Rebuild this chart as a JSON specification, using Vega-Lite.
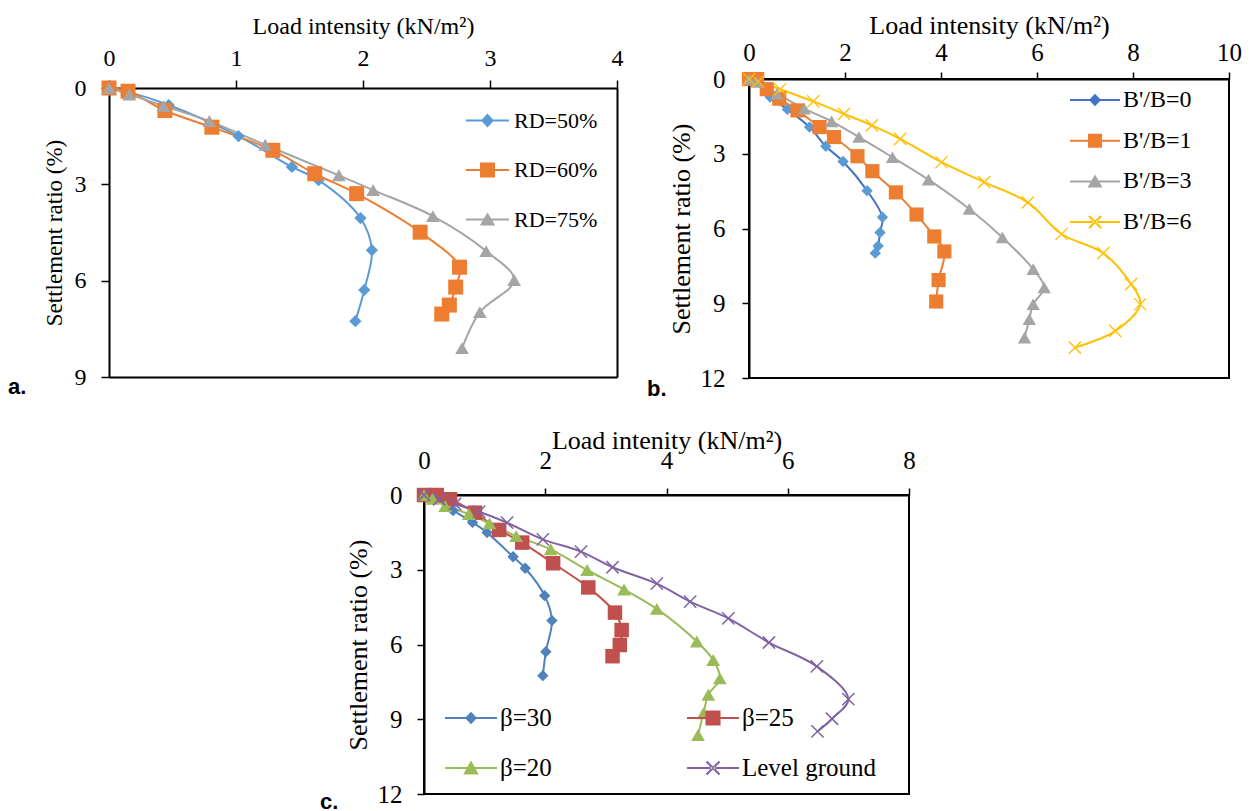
{
 "$schema": "https://vega.github.io/schema/vega-lite/v6.json",
 "background": "white",
 "padding": {"left": 8, "top": 11, "right": 0, "bottom": 0},
 "autosize": {"type": "pad"},
 "config": {
  "font": "Liberation Serif",
  "view": {"stroke": "black", "strokeWidth": 2},
  "axis": {"domainColor": "black", "domainWidth": 2, "tickColor": "black", "tickWidth": 1.5, "labelColor": "black", "titleColor": "black", "labelFont": "Liberation Serif", "titleFont": "Liberation Serif", "titleFontWeight": "normal", "grid": false, "labelOverlap": false},
  "legend": {"labelFont": "Liberation Serif", "labelColor": "black", "padding": 0, "symbolStrokeWidth": 0, "symbolOpacity": 1, "orient": "none", "labelLimit": 300}
 },
 "datasets": {
  "d": [
   {"p":"a","s":"RD=50%","i":0,"x":0,"y":0},{"p":"a","s":"RD=50%","i":1,"x":0.15,"y":0.12},{"p":"a","s":"RD=50%","i":2,"x":0.47,"y":0.53},{"p":"a","s":"RD=50%","i":3,"x":1.02,"y":1.5},{"p":"a","s":"RD=50%","i":4,"x":1.44,"y":2.46},{"p":"a","s":"RD=50%","i":5,"x":1.65,"y":2.87},{"p":"a","s":"RD=50%","i":6,"x":1.98,"y":4.05},{"p":"a","s":"RD=50%","i":7,"x":2.07,"y":5.05},{"p":"a","s":"RD=50%","i":8,"x":2.01,"y":6.29},{"p":"a","s":"RD=50%","i":9,"x":1.94,"y":7.26},
   {"p":"a","s":"RD=60%","i":0,"x":0,"y":0},{"p":"a","s":"RD=60%","i":1,"x":0.15,"y":0.1},{"p":"a","s":"RD=60%","i":2,"x":0.44,"y":0.7},{"p":"a","s":"RD=60%","i":3,"x":0.81,"y":1.22},{"p":"a","s":"RD=60%","i":4,"x":1.29,"y":1.94},{"p":"a","s":"RD=60%","i":5,"x":1.62,"y":2.67},{"p":"a","s":"RD=60%","i":6,"x":1.95,"y":3.29},{"p":"a","s":"RD=60%","i":7,"x":2.45,"y":4.49},{"p":"a","s":"RD=60%","i":8,"x":2.76,"y":5.58},{"p":"a","s":"RD=60%","i":9,"x":2.73,"y":6.2},{"p":"a","s":"RD=60%","i":10,"x":2.68,"y":6.76},{"p":"a","s":"RD=60%","i":11,"x":2.62,"y":7.04},
   {"p":"a","s":"RD=75%","i":0,"x":0,"y":0},{"p":"a","s":"RD=75%","i":1,"x":0.16,"y":0.2},{"p":"a","s":"RD=75%","i":2,"x":0.43,"y":0.56},{"p":"a","s":"RD=75%","i":3,"x":0.79,"y":1.03},{"p":"a","s":"RD=75%","i":4,"x":1.23,"y":1.77},{"p":"a","s":"RD=75%","i":5,"x":1.81,"y":2.72},{"p":"a","s":"RD=75%","i":6,"x":2.08,"y":3.18},{"p":"a","s":"RD=75%","i":7,"x":2.55,"y":3.99},{"p":"a","s":"RD=75%","i":8,"x":2.97,"y":5.08},{"p":"a","s":"RD=75%","i":9,"x":3.19,"y":5.98},{"p":"a","s":"RD=75%","i":10,"x":2.92,"y":6.98},{"p":"a","s":"RD=75%","i":11,"x":2.78,"y":8.1},
   {"p":"b","s":"B'/B=0","i":0,"x":0,"y":0},{"p":"b","s":"B'/B=0","i":1,"x":0.1,"y":0.08},{"p":"b","s":"B'/B=0","i":2,"x":0.44,"y":0.72},{"p":"b","s":"B'/B=0","i":3,"x":0.8,"y":1.22},{"p":"b","s":"B'/B=0","i":4,"x":1.26,"y":1.93},{"p":"b","s":"B'/B=0","i":5,"x":1.6,"y":2.7},{"p":"b","s":"B'/B=0","i":6,"x":1.96,"y":3.31},{"p":"b","s":"B'/B=0","i":7,"x":2.46,"y":4.48},{"p":"b","s":"B'/B=0","i":8,"x":2.78,"y":5.55},{"p":"b","s":"B'/B=0","i":9,"x":2.73,"y":6.16},{"p":"b","s":"B'/B=0","i":10,"x":2.69,"y":6.7},{"p":"b","s":"B'/B=0","i":11,"x":2.63,"y":6.99},
   {"p":"b","s":"B'/B=1","i":0,"x":0,"y":0},{"p":"b","s":"B'/B=1","i":1,"x":0.17,"y":0},{"p":"b","s":"B'/B=1","i":2,"x":0.37,"y":0.41},{"p":"b","s":"B'/B=1","i":3,"x":0.63,"y":0.79},{"p":"b","s":"B'/B=1","i":4,"x":1.01,"y":1.26},{"p":"b","s":"B'/B=1","i":5,"x":1.47,"y":1.93},{"p":"b","s":"B'/B=1","i":6,"x":1.77,"y":2.33},{"p":"b","s":"B'/B=1","i":7,"x":2.26,"y":3.1},{"p":"b","s":"B'/B=1","i":8,"x":2.57,"y":3.7},{"p":"b","s":"B'/B=1","i":9,"x":3.06,"y":4.55},{"p":"b","s":"B'/B=1","i":10,"x":3.49,"y":5.44},{"p":"b","s":"B'/B=1","i":11,"x":3.86,"y":6.32},{"p":"b","s":"B'/B=1","i":12,"x":4.07,"y":6.92},{"p":"b","s":"B'/B=1","i":13,"x":3.95,"y":8.07},{"p":"b","s":"B'/B=1","i":14,"x":3.9,"y":8.93},
   {"p":"b","s":"B'/B=3","i":0,"x":0,"y":0},{"p":"b","s":"B'/B=3","i":1,"x":0.16,"y":0.12},{"p":"b","s":"B'/B=3","i":2,"x":0.58,"y":0.59},{"p":"b","s":"B'/B=3","i":3,"x":1.15,"y":1.19},{"p":"b","s":"B'/B=3","i":4,"x":1.72,"y":1.7},{"p":"b","s":"B'/B=3","i":5,"x":2.29,"y":2.33},{"p":"b","s":"B'/B=3","i":6,"x":2.99,"y":3.14},{"p":"b","s":"B'/B=3","i":7,"x":3.74,"y":4.04},{"p":"b","s":"B'/B=3","i":8,"x":4.59,"y":5.22},{"p":"b","s":"B'/B=3","i":9,"x":5.28,"y":6.36},{"p":"b","s":"B'/B=3","i":10,"x":5.92,"y":7.63},{"p":"b","s":"B'/B=3","i":11,"x":6.15,"y":8.37},{"p":"b","s":"B'/B=3","i":12,"x":5.92,"y":9.04},{"p":"b","s":"B'/B=3","i":13,"x":5.84,"y":9.64},{"p":"b","s":"B'/B=3","i":14,"x":5.74,"y":10.38},
   {"p":"b","s":"B'/B=6","i":0,"x":0,"y":0},{"p":"b","s":"B'/B=6","i":1,"x":0.19,"y":0.1},{"p":"b","s":"B'/B=6","i":2,"x":0.65,"y":0.41},{"p":"b","s":"B'/B=6","i":3,"x":1.34,"y":0.9},{"p":"b","s":"B'/B=6","i":4,"x":1.98,"y":1.4},{"p":"b","s":"B'/B=6","i":5,"x":2.56,"y":1.86},{"p":"b","s":"B'/B=6","i":6,"x":3.15,"y":2.4},{"p":"b","s":"B'/B=6","i":7,"x":4.01,"y":3.34},{"p":"b","s":"B'/B=6","i":8,"x":4.9,"y":4.14},{"p":"b","s":"B'/B=6","i":9,"x":5.81,"y":4.95},{"p":"b","s":"B'/B=6","i":10,"x":6.51,"y":6.22},{"p":"b","s":"B'/B=6","i":11,"x":7.38,"y":6.99},{"p":"b","s":"B'/B=6","i":12,"x":7.96,"y":8.23},{"p":"b","s":"B'/B=6","i":13,"x":8.15,"y":9.04},{"p":"b","s":"B'/B=6","i":14,"x":7.63,"y":10.11},{"p":"b","s":"B'/B=6","i":15,"x":6.79,"y":10.78},
   {"p":"c","s":"β=30","i":0,"x":0,"y":0},{"p":"c","s":"β=30","i":1,"x":0.2,"y":0.15},{"p":"c","s":"β=30","i":2,"x":0.48,"y":0.62},{"p":"c","s":"β=30","i":3,"x":0.8,"y":1.1},{"p":"c","s":"β=30","i":4,"x":1.04,"y":1.51},{"p":"c","s":"β=30","i":5,"x":1.47,"y":2.48},{"p":"c","s":"β=30","i":6,"x":1.67,"y":2.94},{"p":"c","s":"β=30","i":7,"x":1.99,"y":4.04},{"p":"c","s":"β=30","i":8,"x":2.11,"y":5.04},{"p":"c","s":"β=30","i":9,"x":2.01,"y":6.29},{"p":"c","s":"β=30","i":10,"x":1.96,"y":7.25},
   {"p":"c","s":"β=25","i":0,"x":0,"y":0},{"p":"c","s":"β=25","i":1,"x":0.21,"y":0},{"p":"c","s":"β=25","i":2,"x":0.43,"y":0.17},{"p":"c","s":"β=25","i":3,"x":0.84,"y":0.71},{"p":"c","s":"β=25","i":4,"x":1.24,"y":1.4},{"p":"c","s":"β=25","i":5,"x":1.62,"y":1.91},{"p":"c","s":"β=25","i":6,"x":2.13,"y":2.74},{"p":"c","s":"β=25","i":7,"x":2.71,"y":3.71},{"p":"c","s":"β=25","i":8,"x":3.15,"y":4.72},{"p":"c","s":"β=25","i":9,"x":3.26,"y":5.42},{"p":"c","s":"β=25","i":10,"x":3.23,"y":6.02},{"p":"c","s":"β=25","i":11,"x":3.11,"y":6.47},
   {"p":"c","s":"β=20","i":0,"x":0,"y":0},{"p":"c","s":"β=20","i":1,"x":0.14,"y":0.15},{"p":"c","s":"β=20","i":2,"x":0.35,"y":0.44},{"p":"c","s":"β=20","i":3,"x":0.74,"y":0.76},{"p":"c","s":"β=20","i":4,"x":1.08,"y":1.14},{"p":"c","s":"β=20","i":5,"x":1.52,"y":1.65},{"p":"c","s":"β=20","i":6,"x":2.09,"y":2.18},{"p":"c","s":"β=20","i":7,"x":2.69,"y":3.01},{"p":"c","s":"β=20","i":8,"x":3.3,"y":3.79},{"p":"c","s":"β=20","i":9,"x":3.84,"y":4.57},{"p":"c","s":"β=20","i":10,"x":4.5,"y":5.88},{"p":"c","s":"β=20","i":11,"x":4.77,"y":6.62},{"p":"c","s":"β=20","i":12,"x":4.88,"y":7.36},{"p":"c","s":"β=20","i":13,"x":4.69,"y":8.02},{"p":"c","s":"β=20","i":14,"x":4.61,"y":8.76},{"p":"c","s":"β=20","i":15,"x":4.52,"y":9.63},
   {"p":"c","s":"Level ground","i":0,"x":0,"y":0},{"p":"c","s":"Level ground","i":1,"x":0.25,"y":0.17},{"p":"c","s":"Level ground","i":2,"x":0.51,"y":0.36},{"p":"c","s":"Level ground","i":3,"x":0.91,"y":0.67},{"p":"c","s":"Level ground","i":4,"x":1.37,"y":1.11},{"p":"c","s":"Level ground","i":5,"x":1.96,"y":1.78},{"p":"c","s":"Level ground","i":6,"x":2.59,"y":2.27},{"p":"c","s":"Level ground","i":7,"x":3.11,"y":2.9},{"p":"c","s":"Level ground","i":8,"x":3.84,"y":3.56},{"p":"c","s":"Level ground","i":9,"x":4.39,"y":4.28},{"p":"c","s":"Level ground","i":10,"x":5.02,"y":4.95},{"p":"c","s":"Level ground","i":11,"x":5.69,"y":5.92},{"p":"c","s":"Level ground","i":12,"x":6.48,"y":6.88},{"p":"c","s":"Level ground","i":13,"x":7.0,"y":8.19},{"p":"c","s":"Level ground","i":14,"x":6.73,"y":8.98},{"p":"c","s":"Level ground","i":15,"x":6.49,"y":9.49}
  ]
 },
 "data": {"name": "d"},
 "spacing": 25,
 "resolve": {"scale": {"color": "independent", "shape": "independent", "stroke": "independent"}, "legend": {"color": "independent", "shape": "independent", "stroke": "independent"}},
 "vconcat": [
  {
   "align": {"row": "all", "column": "none"},
   "spacing": 23,
   "resolve": {"scale": {"color": "independent", "shape": "independent", "stroke": "independent"}, "legend": {"color": "independent", "shape": "independent", "stroke": "independent"}},
   "hconcat": [
    {
     "width": 508, "height": 298,
     "view": {"stroke": null},
     "title": {"text": "a.", "orient": "bottom", "anchor": "start", "frame": "bounds", "dx": -35, "offset": -12, "font": "Liberation Sans", "fontWeight": "bold", "fontSize": 22, "color": "black", "baseline": "top"},
     "transform": [{"filter": "datum.p === 'a'"}],
     "layer": [
      {"mark": {"type": "line", "interpolate": "catmull-rom", "strokeWidth": 2},
       "encoding": {
        "x": {"field": "x", "type": "quantitative", "scale": {"domain": [0, 4], "nice": false}, "axis": {"orient": "top", "offset": -9, "values": [0, 1, 2, 3, 4], "tickSize": 8, "labelPadding": 10, "labelFontSize": 24, "titleFontSize": 24, "titlePadding": 8, "labelFlush": false, "title": "Load intensity (kN/m²)"}},
        "y": {"field": "y", "type": "quantitative", "scale": {"domain": [0, 9], "nice": false, "range": [9, 298]}, "axis": {"values": [0, 3, 6, 9], "tickSize": 8, "labelPadding": 15, "labelFontSize": 24, "titleFontSize": 23, "titlePadding": 8, "title": "Settlement ratio (%)"}},
        "order": {"field": "i", "type": "quantitative"},
        "stroke": {"field": "s", "type": "nominal", "scale": {"domain": ["RD=50%", "RD=60%", "RD=75%"], "range": ["#5B9BD5", "#ED7D31", "#A5A5A5"]}, "legend": null}
       }},
      {"transform": [{"filter": "datum.s === 'RD=50%'"}], "mark": {"type": "point", "shape": "diamond", "filled": true, "color": "#5B9BD5", "size": 150, "opacity": 1},
       "encoding": {"x": {"field": "x", "type": "quantitative", "scale": {"domain": [0, 4], "nice": false}, "axis": null}, "y": {"field": "y", "type": "quantitative", "scale": {"domain": [0, 9], "nice": false, "range": [9, 298]}, "axis": null}}},
      {"transform": [{"filter": "datum.s === 'RD=60%'"}], "mark": {"type": "point", "shape": "square", "filled": true, "color": "#ED7D31", "size": 225, "opacity": 1},
       "encoding": {"x": {"field": "x", "type": "quantitative", "scale": {"domain": [0, 4], "nice": false}, "axis": null}, "y": {"field": "y", "type": "quantitative", "scale": {"domain": [0, 9], "nice": false, "range": [9, 298]}, "axis": null}}},
      {"transform": [{"filter": "datum.s === 'RD=75%'"}], "mark": {"type": "point", "shape": "triangle-up", "filled": true, "color": "#A5A5A5", "size": 190, "opacity": 1},
       "encoding": {"x": {"field": "x", "type": "quantitative", "scale": {"domain": [0, 4], "nice": false}, "axis": null}, "y": {"field": "y", "type": "quantitative", "scale": {"domain": [0, 9], "nice": false, "range": [9, 298]}, "axis": null}}},
      {"transform": [{"filter": "false"}], "mark": {"type": "point", "filled": true, "opacity": 1},
       "encoding": {
        "x": {"field": "x", "type": "quantitative", "scale": {"domain": [0, 4], "nice": false}, "axis": {"orient": "bottom", "labels": false, "ticks": false, "title": null, "domainWidth": 2}},
        "y": {"field": "y", "type": "quantitative", "scale": {"domain": [0, 9], "nice": false, "range": [9, 298]}, "axis": {"orient": "right", "labels": false, "ticks": false, "title": null, "domainWidth": 2}},
        "color": {"field": "s", "type": "nominal", "scale": {"domain": ["RD=50%", "RD=60%", "RD=75%"], "range": ["#5B9BD5", "#ED7D31", "#A5A5A5"]}, "legend": {"title": null, "legendX": 357, "legendY": 20, "symbolSize": 1849, "labelOffset": 5, "labelFontSize": 22, "rowPadding": 16.5}},
        "shape": {"field": "s", "type": "nominal", "scale": {"domain": ["RD=50%", "RD=60%", "RD=75%"], "range": ["M-1,-0.047L1,-0.047L1,0.047L-1,0.047Z M0,-0.33L0.3,0L0,0.33L-0.3,0Z", "M-1,-0.047L1,-0.047L1,0.047L-1,0.047Z M-0.35,-0.35L0.35,-0.35L0.35,0.35L-0.35,0.35Z", "M-1,-0.047L1,-0.047L1,0.047L-1,0.047Z M0,-0.33L0.36,0.28L-0.36,0.28Z"]}, "legend": {"title": null, "legendX": 357, "legendY": 20, "symbolSize": 1849, "labelOffset": 5, "labelFontSize": 22, "rowPadding": 16.5}}
       }}
     ],
     "resolve": {"axis": {"x": "independent", "y": "independent"}, "scale": {"color": "independent", "shape": "independent"}, "legend": {"color": "independent", "shape": "independent"}}
    },
    {
     "width": 480, "height": 299,
     "title": {"text": "b.", "orient": "bottom", "anchor": "start", "frame": "bounds", "dx": -21, "offset": -12, "font": "Liberation Sans", "fontWeight": "bold", "fontSize": 22, "color": "black", "baseline": "top"},
     "transform": [{"filter": "datum.p === 'b'"}],
     "encoding": {
      "x": {"field": "x", "type": "quantitative", "scale": {"domain": [0, 10], "nice": false}, "axis": {"orient": "top", "values": [0, 2, 4, 6, 8, 10], "tickSize": 7, "labelPadding": 7, "labelFontSize": 25, "titleFontSize": 26, "titlePadding": 2, "labelFlush": false, "title": "Load intensity (kN/m²)"}},
      "y": {"field": "y", "type": "quantitative", "scale": {"domain": [0, 12], "nice": false, "reverse": true}, "axis": {"values": [0, 3, 6, 9, 12], "tickSize": 7, "labelPadding": 17, "labelFontSize": 25, "titleFontSize": 26, "titlePadding": 6, "title": "Settlement ratio (%)"}},
      "order": {"field": "i", "type": "quantitative"}
     },
     "layer": [
      {"mark": {"type": "line", "interpolate": "catmull-rom", "strokeWidth": 2}, "encoding": {"stroke": {"field": "s", "type": "nominal", "scale": {"domain": ["B'/B=0", "B'/B=1", "B'/B=3", "B'/B=6"], "range": ["#4472C4", "#ED7D31", "#A5A5A5", "#FFC000"]}, "legend": null}}},
      {"transform": [{"filter": "datum.s === \"B'/B=0\""}], "mark": {"type": "point", "shape": "diamond", "filled": true, "color": "#5B9BD5", "size": 130, "opacity": 1}},
      {"transform": [{"filter": "datum.s === \"B'/B=1\""}], "mark": {"type": "point", "shape": "square", "filled": true, "color": "#ED7D31", "size": 200, "opacity": 1}},
      {"transform": [{"filter": "datum.s === \"B'/B=3\""}], "mark": {"type": "point", "shape": "triangle-up", "filled": true, "color": "#A5A5A5", "size": 180, "opacity": 1}},
      {"transform": [{"filter": "datum.s === \"B'/B=6\""}], "mark": {"type": "point", "shape": "M-1,-1L1,1M-1,1L1,-1", "filled": false, "color": "#FFC000", "strokeWidth": 1.3, "size": 150, "opacity": 1}},
      {"transform": [{"filter": "false"}], "mark": {"type": "point", "filled": true, "opacity": 1},
       "encoding": {
        "color": {"field": "s", "type": "nominal", "scale": {"domain": ["B'/B=0", "B'/B=1", "B'/B=3", "B'/B=6"], "range": ["#4472C4", "#ED7D31", "#A5A5A5", "#FFC000"]}, "legend": {"title": null, "legendX": 321, "legendY": -4, "symbolSize": 2500, "labelOffset": 3, "labelFontSize": 24, "rowPadding": 3.7}},
        "shape": {"field": "s", "type": "nominal", "scale": {"domain": ["B'/B=0", "B'/B=1", "B'/B=3", "B'/B=6"], "range": ["M-1,-0.04L1,-0.04L1,0.04L-1,0.04Z M0,-0.25L0.24,0L0,0.25L-0.24,0Z", "M-1,-0.04L1,-0.04L1,0.04L-1,0.04Z M-0.28,-0.28L0.28,-0.28L0.28,0.28L-0.28,0.28Z", "M-1,-0.04L1,-0.04L1,0.04L-1,0.04Z M0,-0.28L0.3,0.24L-0.3,0.24Z", "M-1,-0.04L1,-0.04L1,0.04L-1,0.04Z M-0.27,-0.21L0.21,0.27L0.27,0.21L-0.21,-0.27Z M-0.21,0.27L0.27,-0.21L0.21,-0.27L-0.27,0.21Z"]}, "legend": {"title": null, "legendX": 321, "legendY": -4, "symbolSize": 2500, "labelOffset": 3, "labelFontSize": 24, "rowPadding": 3.7}}
       }}
     ],
     "resolve": {"scale": {"color": "independent", "shape": "independent"}, "legend": {"color": "independent", "shape": "independent"}}
    }
   ]
  },
  {
   "align": {"row": "all", "column": "none"},
   "spacing": 0,
   "resolve": {"scale": {"color": "independent", "shape": "independent", "stroke": "independent"}, "legend": {"color": "independent", "shape": "independent", "stroke": "independent"}},
   "hconcat": [
    {"width": 210, "height": 10, "data": {"values": [{"v": 1}]}, "mark": {"type": "point", "opacity": 0}, "encoding": {}, "view": {"fill": "white", "stroke": null}},
    {
     "width": 485, "height": 299,
     "title": {"text": "c.", "orient": "bottom", "anchor": "start", "frame": "bounds", "dx": -25, "offset": -15, "font": "Liberation Sans", "fontWeight": "bold", "fontSize": 22, "color": "black", "baseline": "top"},
     "transform": [{"filter": "datum.p === 'c'"}],
     "encoding": {
      "x": {"field": "x", "type": "quantitative", "scale": {"domain": [0, 8], "nice": false}, "axis": {"orient": "top", "values": [0, 2, 4, 6, 8], "tickSize": 7, "labelPadding": 15, "labelFontSize": 25, "titleFontSize": 26, "titlePadding": -5, "labelFlush": false, "title": "Load intenity (kN/m²)"}},
      "y": {"field": "y", "type": "quantitative", "scale": {"domain": [0, 12], "nice": false, "reverse": true}, "axis": {"values": [0, 3, 6, 9, 12], "tickSize": 7, "labelPadding": 15, "labelFontSize": 25, "titleFontSize": 26, "titlePadding": 6, "title": "Settlement ratio (%)"}},
      "order": {"field": "i", "type": "quantitative"}
     },
     "layer": [
      {"mark": {"type": "line", "interpolate": "catmull-rom", "strokeWidth": 2}, "encoding": {"stroke": {"field": "s", "type": "nominal", "scale": {"domain": ["β=30", "β=20", "β=25", "Level ground"], "range": ["#4F81BD", "#9BBB59", "#C0504D", "#8064A2"]}, "legend": null}}},
      {"transform": [{"filter": "datum.s === 'β=30'"}], "mark": {"type": "point", "shape": "diamond", "filled": true, "color": "#4F81BD", "size": 130, "opacity": 1}},
      {"transform": [{"filter": "datum.s === 'β=25'"}], "mark": {"type": "point", "shape": "square", "filled": true, "color": "#C0504D", "size": 210, "opacity": 1}},
      {"transform": [{"filter": "datum.s === 'β=20'"}], "mark": {"type": "point", "shape": "triangle-up", "filled": true, "color": "#9BBB59", "size": 190, "opacity": 1}},
      {"transform": [{"filter": "datum.s === 'Level ground'"}], "mark": {"type": "point", "shape": "M-1,-1L1,1M-1,1L1,-1", "filled": false, "color": "#8064A2", "strokeWidth": 1.5, "size": 150, "opacity": 1}},
      {"transform": [{"filter": "false"}], "mark": {"type": "point", "filled": true, "opacity": 1},
       "encoding": {
        "color": {"field": "s", "type": "nominal", "scale": {"domain": ["β=30", "β=20", "β=25", "Level ground"], "range": ["#4F81BD", "#9BBB59", "#C0504D", "#8064A2"]}, "legend": {"title": null, "legendX": 21, "legendY": 197, "symbolSize": 2704, "labelOffset": 3, "labelFontSize": 25, "rowPadding": 11, "columns": 2, "columnPadding": 135}},
        "shape": {"field": "s", "type": "nominal", "scale": {"domain": ["β=30", "β=20", "β=25", "Level ground"], "range": ["M-1,-0.04L1,-0.04L1,0.04L-1,0.04Z M0,-0.24L0.23,0L0,0.24L-0.23,0Z", "M-1,-0.04L1,-0.04L1,0.04L-1,0.04Z M0,-0.29L0.3,0.25L-0.3,0.25Z", "M-1,-0.04L1,-0.04L1,0.04L-1,0.04Z M-0.29,-0.29L0.29,-0.29L0.29,0.29L-0.29,0.29Z", "M-1,-0.04L1,-0.04L1,0.04L-1,0.04Z M-0.28,-0.22L0.22,0.28L0.28,0.22L-0.22,-0.28Z M-0.22,0.28L0.28,-0.22L0.22,-0.28L-0.28,0.22Z"]}, "legend": {"title": null, "legendX": 21, "legendY": 197, "symbolSize": 2704, "labelOffset": 3, "labelFontSize": 25, "rowPadding": 11, "columns": 2, "columnPadding": 135}}
       }}
     ],
     "resolve": {"scale": {"color": "independent", "shape": "independent"}, "legend": {"color": "independent", "shape": "independent"}}
    }
   ]
  }
 ]
}
